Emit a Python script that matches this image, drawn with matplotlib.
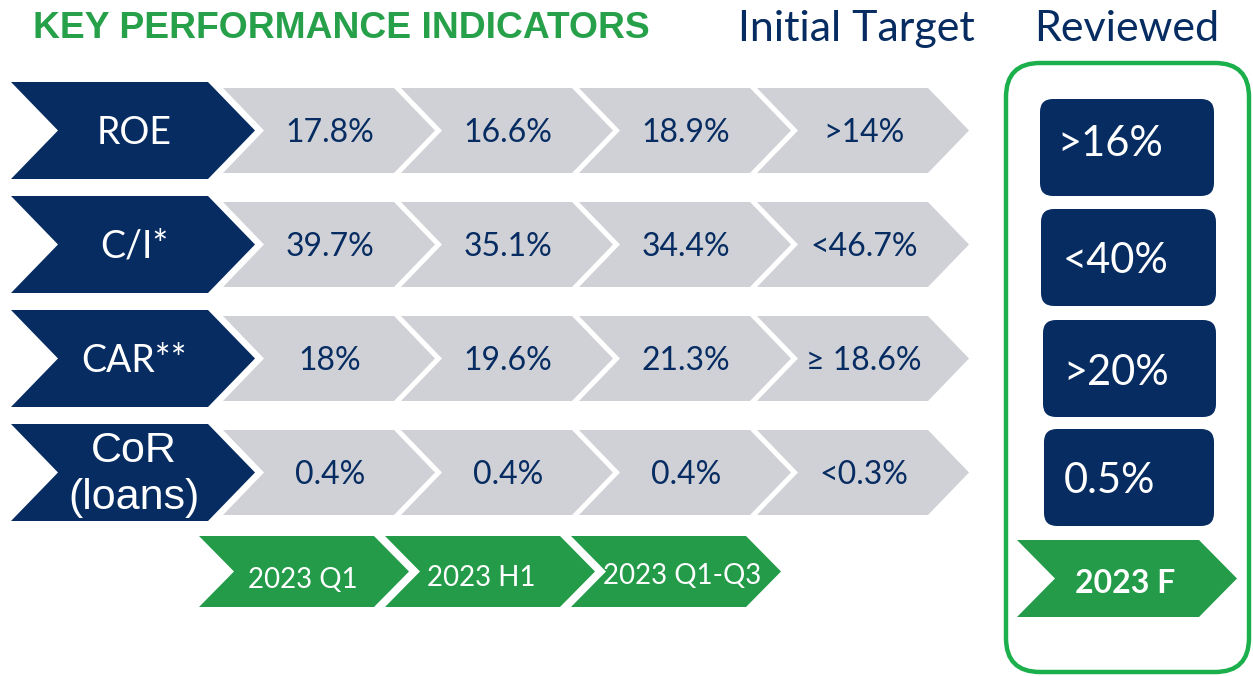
import matplotlib
matplotlib.use("Agg")
import matplotlib.pyplot as plt
from matplotlib.patches import Polygon, FancyBboxPatch

# ---- data ----
metrics = ["ROE", "C/I*", "CAR**", "CoR\n(loans)"]
periods = ["2023 Q1", "2023 H1", "2023 Q1-Q3"]
q1_values = ["17.8%", "39.7%", "18%", "0.4%"]
h1_values = ["16.6%", "35.1%", "19.6%", "0.4%"]
q1q3_values = ["18.9%", "34.4%", "21.3%", "0.4%"]
initial_target = [">14%", "<46.7%", "\u2265 18.6%", "<0.3%"]
reviewed = [">16%", "<40%", ">20%", "0.5%"]
forecast_label = "2023 F"

# ---- style ----
NAVY = "#062C62"
GRAY = "#D0D1D6"
GREEN = "#239B48"
TITLE_GREEN = "#27A04A"
BORDER_GREEN = "#1BB04C"
LATO = ["Lato", "DejaVu Sans"]
ARIAL = ["Liberation Sans", "DejaVu Sans"]

W, H = 1253, 676
fig = plt.figure(figsize=(W / 100, H / 100), dpi=100)
ax = fig.add_axes([0, 0, 1, 1])
ax.set_xlim(0, W)
ax.set_ylim(H, 0)
ax.axis("off")


def chevron(x, top, bot, width, depth, color, notch=True, z=2):
    mid = (top + bot) / 2
    pts = [(x, top), (x + width - depth, top), (x + width, mid),
           (x + width - depth, bot), (x, bot)]
    if notch:
        pts.append((x + depth, mid))
    ax.add_patch(Polygon(pts, closed=True, facecolor=color, edgecolor="none", zorder=z))


# Title and headers
ax.text(33, 38, "KEY PERFORMANCE INDICATORS", family=ARIAL, fontweight="bold",
        fontsize=26.8, color=TITLE_GREEN, ha="left", va="baseline")
ax.text(856, 41, "Initial Target", family=LATO, fontsize=31, color=NAVY,
        ha="center", va="baseline")
ax.text(1127, 41, "Reviewed", family=LATO, fontsize=31, color=NAVY,
        ha="center", va="baseline")

# Metric rows
columns = [q1_values, h1_values, q1q3_values, initial_target]
row_pitch = 114
for i, m in enumerate(metrics):
    top = 82 + row_pitch * i
    bot = top + 97
    mid = (top + bot) / 2
    # gray value chevrons
    for j, col in enumerate(columns):
        gx = 223 + 178 * j
        chevron(gx, top + 6, bot - 6, 212, 41, GRAY, z=1)
        ax.text(gx + 107, mid + 11.5, col[i], family=LATO, fontsize=23,
                color=NAVY, ha="center", va="baseline", zorder=3)
    # navy label chevron
    chevron(11, top, bot, 244, 47, NAVY, z=2)
    if "\n" in m:
        l1, l2 = m.split("\n")
        ax.text(134, mid - 10, l1, family=ARIAL, fontsize=31, color="white",
                ha="center", va="baseline", zorder=3)
        ax.text(134, mid + 37, l2, family=ARIAL, fontsize=31, color="white",
                ha="center", va="baseline", zorder=3)
    else:
        ax.text(134, mid + 13, m, family=LATO, fontsize=27, color="white",
                ha="center", va="baseline", zorder=3)

# Period chevrons
period_text_dx = [104, 96, 111]
period_base = [588, 586, 584]
for j, p in enumerate(periods):
    px = 199 + 186 * j
    chevron(px, 536, 607, 210, 35, GREEN)
    ax.text(px + period_text_dx[j], period_base[j], p, family=LATO, fontsize=20,
            color="white", ha="center", va="baseline", zorder=3)

# Reviewed panel
ax.add_patch(FancyBboxPatch((1006, 63), 243, 609,
                            boxstyle="round,pad=0,rounding_size=34",
                            facecolor="white", edgecolor=BORDER_GREEN,
                            linewidth=3.2, zorder=0))
box_tops = [99, 209, 320, 429]
box_x = [1040, 1041, 1043, 1044]
box_w = [174, 175, 173, 170]
text_x = [1057, 1063, 1063, 1064]
text_base = [156, 273, 385, 493]
for k, r in enumerate(reviewed):
    ax.add_patch(FancyBboxPatch((box_x[k], box_tops[k]), box_w[k], 97,
                                boxstyle="round,pad=0,rounding_size=13",
                                facecolor=NAVY, edgecolor="none", zorder=2))
    ax.text(text_x[k], text_base[k], r, family=LATO, fontsize=30, color="white",
            ha="left", va="baseline", zorder=3)

chevron(1017, 540, 617, 220, 38, GREEN)
ax.text(1125, 593, forecast_label, family=LATO, fontweight="bold", fontsize=23,
        color="white", ha="center", va="baseline", zorder=3)

fig.savefig("out.png", dpi=100)
